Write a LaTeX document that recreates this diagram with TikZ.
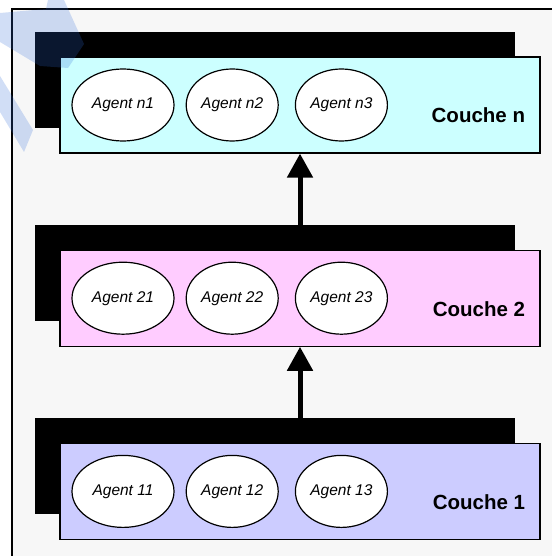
\documentclass[tikz,border=0pt]{standalone}
\usepackage{fontspec}
\setmainfont{Liberation Sans}
\usetikzlibrary{positioning,shadows,arrows.meta,shapes.geometric}
\definecolor{pagegray}{HTML}{F7F7F7}
\definecolor{layercyan}{HTML}{CCFFFF}
\definecolor{layerpink}{HTML}{FFCCFF}
\definecolor{layerlilac}{HTML}{CCCCFF}
\definecolor{markblue}{HTML}{2F6BD8}
\begin{document}
\begin{tikzpicture}[x=1pt, y=-1pt,
  layer/.style={draw, line width=1.2pt, minimum width=480pt, minimum height=96pt,
    inner sep=0pt, general shadow={fill=black, shadow xshift=-25pt, shadow yshift=25pt}},
  agent/.style={draw, fill=white, line width=1.2pt, ellipse, inner sep=0pt,
    minimum width=92pt, minimum height=72pt, font=\fontsize{15.5}{18}\selectfont\itshape},
  layername/.style={anchor=base east, font=\fontsize{20.5}{24}\selectfont\bfseries},
  flow/.style={line width=5pt, -{Triangle[width=25pt,length=24pt]}}]
\useasboundingbox (0,0) rectangle (551,556);
\fill[white] (0,0) rectangle (551,556);
\draw[fill=pagegray, line width=1.5pt] (12,9) rectangle (570,575);

\node (layer3) [layer, fill=layercyan] at (300,105) {};
\node (layer2) [layer, fill=layerpink, below=96pt of layer3] {};
\node (layer1) [layer, fill=layerlilac, below=96pt of layer2] {};

% agents of each layer
\node (an1) [agent, minimum width=102pt, right=12pt of layer3.west] {Agent n1};
\node (an2) [agent, right=11pt of an1] {Agent n2};
\node (an3) [agent, right=16pt of an2] {Agent n3};
\node (a21) [agent, minimum width=102pt, right=12pt of layer2.west] {Agent 21};
\node (a22) [agent, right=11pt of a21] {Agent 22};
\node (a23) [agent, right=16pt of a22] {Agent 23};
\node (a11) [agent, minimum width=102pt, right=12pt of layer1.west] {Agent 11};
\node (a12) [agent, right=11pt of a11] {Agent 12};
\node (a13) [agent, right=16pt of a12] {Agent 13};

\node (name3) [layername] at ([xshift=-12pt,yshift=-18pt]layer3.east) {Couche n};
\node (name2) [layername] at ([xshift=-12pt,yshift=-18pt]layer2.east) {Couche 2};
\node (name1) [layername] at ([xshift=-12pt,yshift=-18pt]layer1.east) {Couche 1};

\draw[flow] ([yshift=25pt]layer2.north) -- (layer3.south);
\draw[flow] ([yshift=25pt]layer1.north) -- (layer2.south);

% watermark
\fill[markblue, opacity=0.22] (0,13) -- (46,9) -- (48,0) -- (64,0) -- (84,44)
  -- (68,68) -- (40,66) -- (0,42) -- cycle;
\fill[markblue, opacity=0.22] (0,76) -- (33,130) -- (24,152) -- (0,112) -- cycle;
\end{tikzpicture}
\end{document}
